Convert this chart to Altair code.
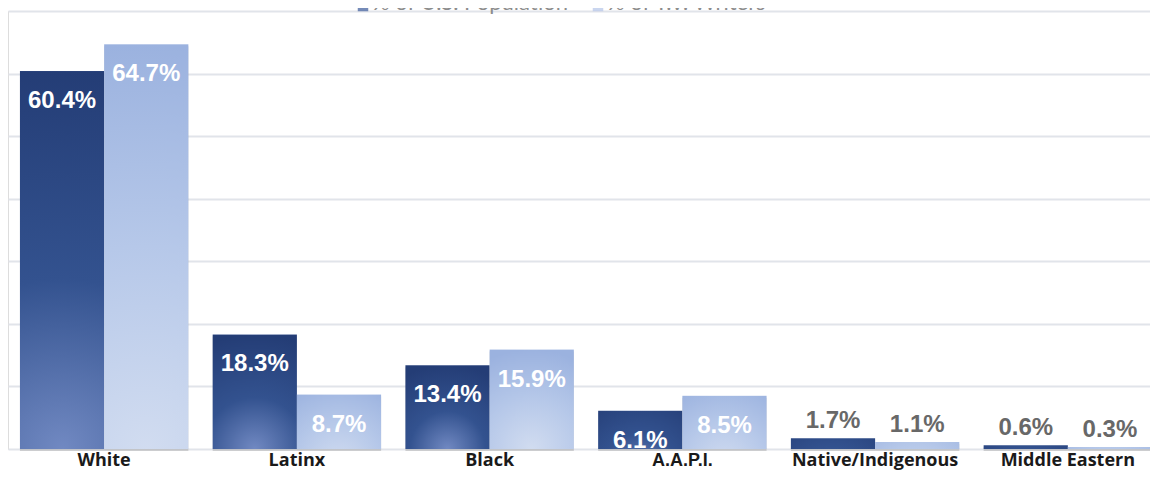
import altair as alt
import pandas as pd

categories = ["White", "Latinx", "Black", "A.A.P.I.", "Native/Indigenous", "Middle Eastern"]
series_names = ["% of U.S. Population", "% of T.V. Writers"]
us_population = [60.4, 18.3, 13.4, 6.1, 1.7, 0.6]
tv_writers = [64.7, 8.7, 15.9, 8.5, 1.1, 0.3]
y_ticks = [0, 10, 20, 30, 40, 50, 60, 70]
legend_colors = ["#3b5a9a", "#b3c5e8"]

rows = []
for c, p, t in zip(categories, us_population, tv_writers):
    rows.append({"cat": c, "series": series_names[0], "v": p, "lbl": f"{p}%"})
    rows.append({"cat": c, "series": series_names[1], "v": t, "lbl": f"{t}%"})
df = pd.DataFrame(rows)

W, H = 1142, 438

x_enc = alt.X("cat:N", sort=categories,
              scale=alt.Scale(domain=categories, range=[0, 1156],
                              paddingInner=0.1262, paddingOuter=0.062),
              axis=alt.Axis(title=None, ticks=False, domain=False, labelPadding=2,
                            labelFontSize=18, labelFontWeight="bold", labelColor="#1a1a1a",
                            labelFont={"condition": {"test": "datum.value == 'A.A.P.I.'",
                                                     "value": "Liberation Sans"},
                                       "value": "Open Sans"},
                            labelAngle=0))
xo_enc = alt.XOffset("series:N", sort=series_names,
                     scale=alt.Scale(domain=series_names, paddingInner=0, paddingOuter=0))
y_enc = alt.Y("v:Q", scale=alt.Scale(domain=[0, 70], nice=False),
              axis=alt.Axis(title=None, labels=False, ticks=False, domain=False,
                            values=y_ticks, grid=True, gridColor="#e1e4ea", gridWidth=2))

dark_grad = alt.RadialGradient(
    gradient="radial", x1=0.5, y1=1, r1=0, x2=0.5, y2=1, r2=1,
    stops=[alt.GradientStop(offset=0, color="#7189c2"),
           alt.GradientStop(offset=0.45, color="#33528f"),
           alt.GradientStop(offset=1, color="#243d76")])
light_grad = alt.RadialGradient(
    gradient="radial", x1=0.5, y1=1, r1=0, x2=0.5, y2=1, r2=1,
    stops=[alt.GradientStop(offset=0, color="#d1dcf0"),
           alt.GradientStop(offset=0.5, color="#b6c8e9"),
           alt.GradientStop(offset=1, color="#9bb2df")])

base = alt.Chart(df)

shadow = base.mark_bar(color="#7a7a7a", opacity=0.3, xOffset=4, yOffset=2).encode(
    x=x_enc, xOffset=xo_enc, y=y_enc)

dark = base.transform_filter(alt.datum.series == series_names[0]).mark_bar(
    color=dark_grad).encode(x=x_enc, xOffset=xo_enc, y=y_enc)
light = base.transform_filter(alt.datum.series == series_names[1]).mark_bar(
    color=light_grad).encode(x=x_enc, xOffset=xo_enc, y=y_enc)

inside = base.transform_filter(alt.datum.v >= 5).mark_text(
    font="Liberation Sans", fontSize=24, fontWeight="bold", color="white",
    baseline="middle", dy=30).encode(x=x_enc, xOffset=xo_enc, y=y_enc, text="lbl:N")
outside = base.transform_filter(alt.datum.v < 5).mark_text(
    font="Liberation Sans", fontSize=24, fontWeight="bold", color="#686868",
    baseline="middle", dy=-17).encode(x=x_enc, xOffset=xo_enc, y=y_enc, text="lbl:N")

# legend (cropped at the top like the reference)
legend_layers = []
for name, col, xs in zip(series_names, legend_colors, [355, 590]):
    ld = pd.DataFrame({"series": [name]})
    legend_layers.append(alt.Chart(ld).mark_square(size=110, color=col).encode(
        x=alt.value(xs), y=alt.value(-5)))
    legend_layers.append(alt.Chart(ld).mark_text(
        font="Lato", fontSize=22, color="#8c8c8c", align="left",
        baseline="alphabetic").encode(x=alt.value(xs + 9), y=alt.value(-1), text="series:N"))

chart = alt.layer(shadow, dark, light, inside, outside, *legend_layers).properties(
    width=W, height=H,
    autosize=alt.AutoSizeParams(type="none"),
    padding={"left": 0, "top": 3, "right": 0, "bottom": 21},
).configure_view(stroke=None).configure(background="white")

chart.save("out.html", embed_options={"renderer": "svg", "actions": False})
